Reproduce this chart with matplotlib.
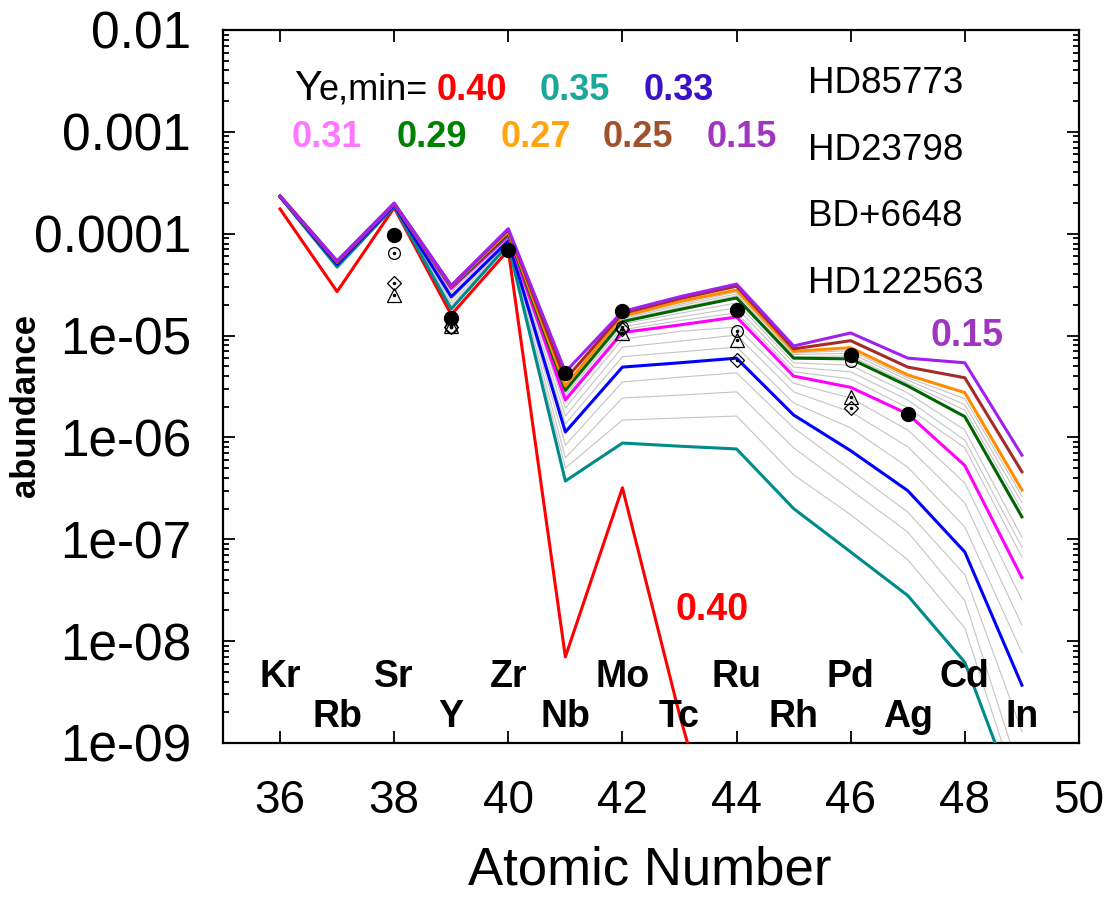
import numpy as np
import matplotlib
matplotlib.use("Agg")
import matplotlib.pyplot as plt
from matplotlib.ticker import FixedLocator, FixedFormatter, LogLocator, NullFormatter

plt.rcParams['font.family'] = ['Liberation Sans', 'DejaVu Sans']

# atomic numbers Kr .. In
Z = np.arange(36, 50)
elem_top = ['Kr', 'Sr', 'Zr', 'Mo', 'Ru', 'Pd', 'Cd']
elem_bot = ['Rb', 'Y', 'Nb', 'Tc', 'Rh', 'Ag', 'In']

# model abundances for each Ye,min
ab_040 = [1.75e-4, 2.7e-5, 1.8e-4, 1.6e-5, 6.9e-5, 7.0e-9, 3.2e-7, 1.9e-9, 2e-11, 1e-11, 1e-11, 1e-11, 1e-11, 1e-11]
ab_035 = [2.3e-4, 4.7e-5, 1.85e-4, 1.82e-5, 7.8e-5, 3.73e-7, 8.8e-7, 8.2e-7, 7.7e-7, 2.0e-7, 7.5e-8, 2.8e-8, 6.2e-9, 2.0e-10]
ab_033 = [2.3e-4, 5.0e-5, 1.9e-4, 2.4e-5, 8.5e-5, 1.13e-6, 4.9e-6, 5.4e-6, 6.0e-6, 1.66e-6, 7.4e-7, 3.0e-7, 7.5e-8, 3.7e-9]
ab_031 = [2.3e-4, 5.2e-5, 1.95e-4, 2.9e-5, 9.5e-5, 2.33e-6, 1.07e-5, 1.27e-5, 1.52e-5, 4.0e-6, 3.1e-6, 1.7e-6, 5.3e-7, 4.2e-8]
ab_029 = [2.3e-4, 5.3e-5, 1.96e-4, 3.0e-5, 1.0e-4, 2.9e-6, 1.37e-5, 1.8e-5, 2.34e-5, 6.0e-6, 5.9e-6, 3.2e-6, 1.6e-6, 1.66e-7]
ab_027 = [2.35e-4, 5.35e-5, 1.97e-4, 3.05e-5, 1.05e-4, 3.2e-6, 1.55e-5, 2.15e-5, 2.8e-5, 7.0e-6, 7.6e-6, 4.1e-6, 2.75e-6, 3.05e-7]
ab_025 = [2.35e-4, 5.35e-5, 1.98e-4, 3.08e-5, 1.09e-4, 3.7e-6, 1.65e-5, 2.3e-5, 3.05e-5, 7.4e-6, 8.9e-6, 4.9e-6, 3.85e-6, 4.6e-7]
ab_015 = [2.35e-4, 5.4e-5, 2.0e-4, 3.1e-5, 1.12e-4, 4.4e-6, 1.72e-5, 2.4e-5, 3.2e-5, 7.9e-6, 1.06e-5, 6.0e-6, 5.4e-6, 6.7e-7]

# intermediate Ye,min runs (thin grey)
grey_runs = [
    [2.3e-4, 4.8e-5, 1.86e-4, 1.95e-5, 8.0e-5, 5.0e-7, 1.48e-6, 1.55e-6, 1.62e-6, 4.3e-7, 1.74e-7, 6.3e-8, 1.35e-8, 2.5e-10],
    [2.3e-4, 4.9e-5, 1.87e-4, 2.08e-5, 8.2e-5, 6.3e-7, 2.44e-6, 2.6e-6, 2.8e-6, 7.9e-7, 3.05e-7, 1.18e-7, 2.5e-8, 4.4e-10],
    [2.3e-4, 5.0e-5, 1.88e-4, 2.23e-5, 8.4e-5, 8.4e-7, 3.5e-6, 3.9e-6, 4.3e-6, 1.24e-6, 4.8e-7, 1.85e-7, 4.5e-8, 1.3e-9],
    [2.3e-4, 5.05e-5, 1.91e-4, 2.5e-5, 8.6e-5, 1.36e-6, 6.2e-6, 6.9e-6, 7.7e-6, 2.18e-6, 1.24e-6, 5.1e-7, 1.32e-7, 7.7e-9],
    [2.3e-4, 5.1e-5, 1.92e-4, 2.65e-5, 8.9e-5, 1.62e-6, 7.7e-6, 8.8e-6, 1.01e-5, 2.8e-6, 1.78e-6, 8.1e-7, 2.27e-7, 1.44e-8],
    [2.3e-4, 5.15e-5, 1.94e-4, 2.8e-5, 9.2e-5, 1.95e-6, 9.2e-6, 1.1e-5, 1.21e-5, 3.4e-6, 2.44e-6, 1.18e-6, 3.57e-7, 2.54e-8],
    [2.3e-4, 5.25e-5, 1.95e-4, 2.92e-5, 9.6e-5, 2.45e-6, 1.14e-5, 1.4e-5, 1.67e-5, 4.4e-6, 3.75e-6, 1.95e-6, 7.9e-7, 6.7e-8],
    [2.3e-4, 5.3e-5, 1.95e-4, 2.95e-5, 9.7e-5, 2.6e-6, 1.22e-5, 1.52e-5, 1.87e-5, 4.9e-6, 4.4e-6, 2.33e-6, 9.4e-7, 8.4e-8],
    [2.3e-4, 5.3e-5, 1.96e-4, 2.98e-5, 9.8e-5, 2.75e-6, 1.3e-5, 1.65e-5, 2.09e-5, 5.4e-6, 5.1e-6, 2.73e-6, 1.18e-6, 1.05e-7],
    [2.3e-4, 5.35e-5, 1.96e-4, 3.0e-5, 1.01e-4, 2.95e-6, 1.42e-5, 1.87e-5, 2.45e-5, 6.2e-6, 6.3e-6, 3.4e-6, 1.85e-6, 1.95e-7],
    [2.35e-4, 5.35e-5, 1.97e-4, 3.02e-5, 1.02e-4, 3.0e-6, 1.47e-5, 1.95e-5, 2.56e-5, 6.5e-6, 6.7e-6, 3.65e-6, 2.1e-6, 2.3e-7],
    [2.35e-4, 5.35e-5, 1.97e-4, 3.04e-5, 1.03e-4, 3.05e-6, 1.51e-5, 2.02e-5, 2.68e-5, 6.75e-6, 7.1e-6, 3.85e-6, 2.4e-6, 2.65e-7],
]

# observed r-process-poor stars
z_hd85773 = [38, 39, 40, 41, 42, 44, 46, 47]
ab_hd85773 = [9.8e-5, 1.5e-5, 6.9e-5, 4.3e-6, 1.74e-5, 1.78e-5, 6.4e-6, 1.7e-6]
z_hd23798 = [38, 39, 42, 44, 46]
ab_hd23798 = [6.5e-5, 1.2e-5, 1.22e-5, 1.12e-5, 5.6e-6]
z_bd6648 = [38, 39, 42, 44, 46]
ab_bd6648 = [3.3e-5, 1.2e-5, 1.15e-5, 5.7e-6, 1.95e-6]
z_hd122563 = [38, 39, 42, 44, 46]
ab_hd122563 = [2.5e-5, 1.25e-5, 1.07e-5, 9.0e-6, 2.5e-6]

ytick_vals = [1e-9, 1e-8, 1e-7, 1e-6, 1e-5, 1e-4, 1e-3, 1e-2]
ytick_labels = ['1e-09', '1e-08', '1e-07', '1e-06', '1e-05', '0.0001', '0.001', '0.01']

fig = plt.figure(figsize=(11.16, 8.97), dpi=100)
ax = fig.add_axes([0.1998, 0.1717, 0.7670, 0.7949])

for g in grey_runs:
    ax.plot(Z, g, color='#c4c4c4', lw=0.8, zorder=2)

runs = [
    (ab_040, '#ff0000'),
    (ab_035, '#008b8b'),
    (ab_033, '#0000ff'),
    (ab_031, '#ff00ff'),
    (ab_029, '#006400'),
    (ab_027, '#ff8c00'),
    (ab_025, '#a52a2a'),
    (ab_015, '#a020f0'),
]
for vals, col in runs:
    ax.plot(Z, vals, color=col, lw=2.2, zorder=3)

# stars: open symbols carry a small centre dot
ax.plot(z_hd23798, ab_hd23798, 'o', ms=8.5, mfc='none', mec='black', mew=0.9, zorder=5)
ax.plot(z_bd6648, ab_bd6648, 'D', ms=7, mfc='none', mec='black', mew=0.9, zorder=5)
ax.plot(z_hd122563, ab_hd122563, '^', ms=9.5, mfc='none', mec='black', mew=0.9, zorder=5)
for zz, aa in [(z_hd23798, ab_hd23798), (z_bd6648, ab_bd6648), (z_hd122563, ab_hd122563)]:
    ax.plot(zz, aa, 'o', ms=1.5, color='black', zorder=6)
ax.plot(z_hd85773, ab_hd85773, 'o', ms=10, color='black', zorder=7)

ax.set_yscale('log')
ax.set_xlim(35, 50)
ax.set_ylim(1e-9, 1e-2)

ax.xaxis.set_major_locator(FixedLocator(range(36, 51, 2)))
ax.yaxis.set_major_locator(FixedLocator(ytick_vals))
ax.yaxis.set_major_formatter(FixedFormatter(ytick_labels))
ax.yaxis.set_minor_locator(LogLocator(base=10, subs=np.arange(2, 10), numticks=20))
ax.yaxis.set_minor_formatter(NullFormatter())

ax.tick_params(which='both', direction='in', top=True, right=True, width=1.3)
ax.tick_params(which='major', length=8.5)
ax.tick_params(which='minor', length=4.3)
ax.tick_params(axis='y', which='major', labelsize=37, pad=23)
ax.tick_params(axis='x', which='major', labelsize=33, pad=26)
for sp in ax.spines.values():
    sp.set_linewidth(1.6)

# element names along the bottom
for i, name in enumerate(elem_top):
    ax.text(36 + 2 * i, 3.55e-9, name, ha='center', va='baseline', fontsize=27,
            fontweight='bold', zorder=8)
for i, name in enumerate(elem_bot):
    ax.text(37 + 2 * i, 1.44e-9, name, ha='center', va='baseline', fontsize=27,
            fontweight='bold', zorder=8)

# Ye,min key
ax.text(0.083, 0.902, 'Y', transform=ax.transAxes, fontsize=30, va='baseline')
ax.text(0.112, 0.902, 'e,min=', transform=ax.transAxes, fontsize=26, va='baseline')
key_row1 = [('0.40', '#ff0000', 0.250), ('0.35', '#1aa89a', 0.370), ('0.33', '#3a10c8', 0.492)]
key_row2 = [('0.31', '#ff77ff', 0.0806), ('0.29', '#008000', 0.203), ('0.27', '#ffa510', 0.324),
            ('0.25', '#a0522d', 0.444), ('0.15', '#a035c0', 0.565)]
for txt, col, xf in key_row1:
    ax.text(xf, 0.902, txt, transform=ax.transAxes, color=col, fontsize=26,
            fontweight='bold', va='baseline')
for txt, col, xf in key_row2:
    ax.text(xf, 0.836, txt, transform=ax.transAxes, color=col, fontsize=26,
            fontweight='bold', va='baseline')

for name, yf in zip(['HD85773', 'HD23798', 'BD+6648', 'HD122563'], [0.9116, 0.8176, 0.7251, 0.631]):
    ax.text(0.683, yf, name, transform=ax.transAxes, fontsize=26.5, va='baseline')

ax.text(48.04, 9.8e-6, '0.15', color='#a035c0', fontsize=27, fontweight='bold',
        ha='center', va='center')
ax.text(43.57, 2.0e-8, '0.40', color='#ff0000', fontsize=27, fontweight='bold',
        ha='center', va='center')

fig.text(650 / 1116, 0.030, 'Atomic Number', ha='center', va='center', fontsize=38)
fig.text(26 / 1116, 0.5485, 'abundance', ha='center', va='center', rotation=90,
         fontsize=25, fontweight='bold')

fig.savefig('out.png', dpi=100, facecolor='white')
